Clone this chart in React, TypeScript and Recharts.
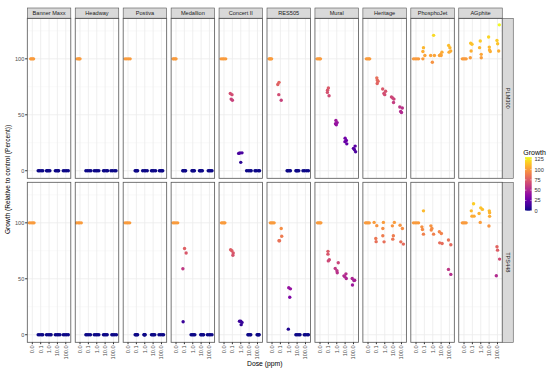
import React from "react";
import { CartesianGrid, Cell, Scatter, ScatterChart, XAxis, YAxis } from "recharts";

const products = ["Banner Maxx", "Headway", "Postiva", "Medallion", "Concert II", "RES505", "Mural", "Heritage", "PhosphoJet", "AGphite"];
const isolates = ["PLM300", "TPS448"];
const doseLabels = ["0.0", "0.1", "1.0", "10.0", "100.0"];
const growthTicks = [0, 50, 100];
const legendTicks = [0, 25, 50, 75, 100, 125];

// [jittered dose position (1 = 0.0 ppm ... 5 = 100.0 ppm), growth %]
const plmBannerMaxx = [
  [0.8, 100], [0.9, 100], [1.05, 100], [1.15, 100],
  [1.7, 0], [1.85, 0], [2.05, 0], [2.25, 0],
  [2.7, 0], [2.8, 0], [2.95, 0], [3.1, 0],
  [3.75, 0], [3.9, 0], [4.05, 0], [4.15, 0],
  [4.7, 0], [4.9, 0], [5.1, 0], [5.3, 0],
];
const plmHeadway = [
  [0.65, 100], [0.8, 100], [0.9, 100], [1.0, 100],
  [1.7, 0], [1.9, 0], [2.1, 0], [2.3, 0],
  [2.7, 0], [2.9, 0], [3.05, 0], [3.25, 0],
  [3.8, 0], [3.95, 0], [4.15, 0], [4.3, 0],
  [4.7, 0], [4.9, 0], [5.15, 0], [5.3, 0],
];
const plmPostiva = [
  [0.65, 100], [0.85, 100], [1.05, 100], [1.25, 100],
  [1.85, 0], [1.95, 0], [2.05, 0], [2.15, 0],
  [2.75, 0], [2.95, 0], [3.1, 0], [3.3, 0],
  [3.8, 0], [3.95, 0], [4.1, 0], [4.3, 0],
  [4.75, 0], [4.9, 0], [5.05, 0], [5.15, 0],
];
const plmMedallion = [
  [0.65, 100], [0.75, 100], [0.9, 100], [1.0, 100],
  [1.8, 0], [1.9, 0], [2.05, 0], [2.15, 0],
  [2.9, 0], [3.0, 0], [3.1, 0], [3.2, 0],
  [3.8, 0], [3.9, 0], [4.0, 0], [4.15, 0],
  [4.85, 0], [5.0, 0], [5.15, 0], [5.3, 0],
];
const plmConcertII = [
  [0.65, 100], [0.85, 100], [1.0, 100], [1.2, 100],
  [1.75, 69], [1.95, 68], [1.85, 64], [2.0, 63],
  [2.75, 15.5], [2.9, 15.8], [3.15, 16], [3.0, 7.5],
  [3.7, 0], [3.9, 0], [4.1, 0], [4.25, 0],
  [4.7, 0], [4.85, 0], [5.1, 0], [5.25, 0],
];
const plmRES505 = [
  [0.65, 100], [0.75, 100], [0.85, 100], [0.95, 100],
  [1.84, 79], [1.69, 77], [1.81, 68], [2.1, 63],
  [2.8, 0], [2.9, 0], [3.05, 0], [3.2, 0],
  [3.85, 0], [3.95, 0], [4.05, 0], [4.2, 0],
  [4.7, 0], [4.9, 0], [5.15, 0], [5.35, 0],
];
const plmMural = [
  [0.65, 100], [0.8, 100], [0.95, 100], [1.05, 100],
  [2.0, 74], [1.9, 72], [1.88, 70], [2.08, 67],
  [2.9, 45], [3.05, 43], [2.85, 42], [2.95, 41],
  [4.0, 29], [4.15, 27], [3.98, 26], [4.2, 24],
  [5.2, 22], [5.0, 20], [5.1, 19], [5.25, 17],
];
const plmHeritage = [
  [0.8, 100], [0.95, 100], [1.1, 100], [1.2, 100],
  [2.05, 83], [2.1, 81], [2.2, 80], [2.1, 78],
  [2.75, 73], [3.1, 71], [2.9, 69], [3.0, 68],
  [3.8, 66], [3.95, 65], [4.1, 64], [4.05, 61],
  [4.8, 57], [5.1, 56], [4.9, 53], [5.0, 52],
];
const plmPhosphoJet = [
  [0.7, 100], [0.9, 100], [1.1, 100], [1.3, 100],
  [1.89, 110], [1.82, 106.5], [2.06, 103], [1.82, 100],
  [2.75, 103], [2.95, 97], [3.1, 121], [3.2, 103],
  [3.8, 103], [3.95, 104], [4.1, 106], [4.0, 103],
  [4.9, 112], [5.05, 110], [5.15, 107], [4.95, 106],
];
const plmAGphite = [
  [0.8, 100], [0.95, 100], [1.1, 100], [1.25, 100],
  [1.8, 114], [1.95, 113], [1.85, 107], [1.75, 101],
  [2.94, 116], [2.86, 110], [3.06, 104], [3.06, 101],
  [3.94, 119.5], [4.02, 110.5], [4.14, 106.5], [4.05, 108],
  [4.94, 116.5], [5.02, 113.5], [5.14, 107], [5.22, 130.4],
];

const tpsBannerMaxx = [
  [0.65, 100], [0.85, 100], [1.05, 100], [1.2, 100],
  [1.7, 0], [1.9, 0], [2.1, 0], [2.25, 0],
  [2.7, 0], [2.9, 0], [3.1, 0], [3.25, 0],
  [3.75, 0], [3.95, 0], [4.1, 0], [4.3, 0],
  [4.7, 0], [4.9, 0], [5.1, 0], [5.3, 0],
];
const tpsHeadway = [
  [0.6, 100], [0.8, 100], [0.95, 100], [1.15, 100],
  [1.7, 0], [1.85, 0], [2.05, 0], [2.25, 0],
  [2.7, 0], [2.9, 0], [3.05, 0], [3.25, 0],
  [3.8, 0], [3.95, 0], [4.1, 0], [4.25, 0],
  [4.8, 0], [4.95, 0], [5.15, 0], [5.35, 0],
];
const tpsPostiva = [
  [0.65, 100], [0.85, 100], [1.0, 100], [1.2, 100],
  [1.85, 0], [1.95, 0], [2.05, 0], [2.15, 0],
  [2.9, 0], [2.95, 0], [3.0, 0], [3.05, 0],
  [3.8, 0], [3.95, 0], [4.05, 0], [4.2, 0],
  [4.7, 0], [4.9, 0], [5.1, 0], [5.25, 0],
];
const tpsMedallion = [
  [0.65, 100], [0.8, 100], [1.0, 100], [1.2, 100],
  [2.02, 77], [2.21, 73], [1.82, 59], [1.85, 11.6],
  [2.8, 0], [2.95, 0], [3.1, 0], [3.25, 0],
  [3.95, 0], [4.05, 0], [4.2, 0], [4.3, 0],
  [4.75, 0], [4.95, 0], [5.1, 0], [5.3, 0],
];
const tpsConcertII = [
  [0.7, 100], [0.85, 100], [1.0, 100], [1.1, 100],
  [1.79, 76], [1.94, 75], [2.1, 73], [2.06, 71],
  [2.85, 12], [3.0, 12], [3.15, 11], [3.05, 9],
  [3.85, 0], [3.95, 0], [4.1, 0], [4.2, 0],
  [4.95, 0], [5.05, 0], [5.15, 0], [5.2, 0],
];
const tpsRES505 = [
  [0.8, 100], [0.95, 100], [1.1, 100], [1.25, 100],
  [2.1, 95], [2.16, 88], [1.83, 84], [1.9, 84],
  [3.0, 42], [3.2, 41], [3.12, 33.5], [2.95, 5],
  [3.85, 0], [4.0, 0], [4.2, 0], [4.35, 0],
  [4.85, 0], [5.0, 0], [5.2, 0], [5.35, 0],
];
const tpsMural = [
  [0.7, 100], [0.85, 100], [1.0, 100], [1.1, 100],
  [1.95, 74.5], [1.95, 72], [2.11, 67], [1.99, 66],
  [3.18, 64.3], [2.82, 59.3], [3.02, 57.2], [3.06, 55.4],
  [4.1, 54.4], [3.86, 52.6], [3.95, 52], [4.14, 50.2],
  [4.85, 50.2], [5.14, 48.7], [5.05, 48.5], [4.88, 44.4],
];
const tpsHeritage = [
  [0.7, 100], [0.85, 100], [1.0, 100], [1.15, 100],
  [1.73, 100.4], [2.05, 97.5], [1.93, 86], [1.97, 83.2],
  [2.84, 100.4], [2.77, 95], [2.77, 88.4], [2.92, 83],
  [4.15, 100.4], [3.91, 97.3], [4.03, 88.4], [3.96, 85.4],
  [4.83, 97.9], [5.11, 95], [4.92, 83], [5.23, 81],
];
const tpsPhosphoJet = [
  [0.7, 100], [0.9, 100], [1.1, 100], [1.3, 100],
  [1.89, 110.7], [1.7, 96.4], [1.77, 94.1], [1.89, 89.9],
  [2.78, 97.3], [2.9, 95], [2.82, 93.5], [3.1, 89.9],
  [3.79, 92], [4.03, 90.5], [3.83, 82.1], [4.12, 81.6],
  [4.88, 84.6], [5.16, 80.4], [4.88, 58.4], [5.16, 53.9],
];
const tpsAGphite = [
  [0.8, 100], [0.95, 100], [1.1, 100], [1.25, 100],
  [2.14, 117], [1.87, 110.7], [1.95, 106], [2.2, 106],
  [2.8, 108.4], [3.0, 113.4], [3.2, 112], [2.94, 100.4],
  [4.02, 110.7], [4.06, 109], [4.06, 105.8], [3.98, 97.2],
  [4.94, 78.6], [5.01, 75.6], [5.25, 67.6], [4.86, 52.7],
];

const plm300 = [plmBannerMaxx, plmHeadway, plmPostiva, plmMedallion, plmConcertII, plmRES505, plmMural, plmHeritage, plmPhosphoJet, plmAGphite];
const tps448 = [tpsBannerMaxx, tpsHeadway, tpsPostiva, tpsMedallion, tpsConcertII, tpsRES505, tpsMural, tpsHeritage, tpsPhosphoJet, tpsAGphite];
const rows = [plm300, tps448];

const growthMax = Math.max(...rows.flat(2).map((p) => p[1]));

// layout
const FONT = "'Liberation Sans', Arial, Helvetica, sans-serif";
const X0 = 27.3;
const PITCH = 47.94;
const PW = 43.5;
const PH = 160;
const ROW_TOPS = [18.3, 182.3];
const STRIP_H = 10.3;
const RSTRIP_W = 11;
const XAXIS_H = 24;

const PLASMA = ["#0d0887", "#41049d", "#6a00a8", "#8f0da4", "#b12a90", "#cc4778", "#e16462", "#f2844b", "#fca636", "#fcce25", "#f0f921"];

function plasma(t: number) {
  const c = Math.max(0, Math.min(1, t || 0)) * (PLASMA.length - 1);
  const i = Math.min(Math.floor(c), PLASMA.length - 2);
  const f = c - i;
  const a = PLASMA[i], b = PLASMA[i + 1];
  const ch = (h: string, k: number) => parseInt(h.slice(1 + k * 2, 3 + k * 2), 16);
  const mix = [0, 1, 2].map((k) => Math.round(ch(a, k) + (ch(b, k) - ch(a, k)) * f));
  return `rgb(${mix.join(",")})`;
}

function DoseTick({ x, y, payload }: any) {
  return (
    <text x={x} y={y} transform={`rotate(-90 ${x} ${y})`} textAnchor="end" dy="0.35em" fontSize={5.6} fill="#4D4D4D" fontFamily={FONT}>
      {doseLabels[payload.value - 1]}
    </text>
  );
}

function Dot(p: any) {
  const v = p.payload?.y;
  return <circle cx={p.cx} cy={p.cy} r={1.7} fill={v == null ? p.fill : plasma(v / growthMax)} />;
}

function Panel({ points, col, row }: { points: number[][]; col: number; row: number }) {
  const left = X0 + col * PITCH;
  const yw = col === 0 ? left : 0;
  const xh = row === 1 ? XAXIS_H : 0;
  const data = points.map(([x, y]) => ({ x, y }));
  return (
    <div style={{ position: "absolute", left: left - yw, top: ROW_TOPS[row] }}>
      <ScatterChart width={PW + yw} height={PH + xh} margin={{ top: 0, right: 0, bottom: 0, left: 0 }}>
        <CartesianGrid stroke="#F2F2F2" strokeWidth={0.5} vertical={false} horizontalValues={[25, 75, 125]} />
        <CartesianGrid stroke="#EBEBEB" strokeWidth={0.8} horizontalValues={growthTicks} verticalValues={[1, 2, 3, 4, 5]} />
        <XAxis
          type="number"
          dataKey="x"
          domain={[0.4, 5.6]}
          ticks={[1, 2, 3, 4, 5]}
          hide={row !== 1}
          height={XAXIS_H}
          axisLine={false}
          tickLine={{ stroke: "#333" }}
          tickSize={2.2}
          tickMargin={1.2}
          tick={<DoseTick />}
          interval={0}
        />
        <YAxis
          type="number"
          dataKey="y"
          domain={[-6.5, 136.5]}
          ticks={growthTicks}
          hide={col !== 0}
          width={yw}
          axisLine={false}
          tickLine={{ stroke: "#333" }}
          tickSize={2.2}
          tickMargin={0.8}
          tick={{ fontSize: 5.6, fill: "#4D4D4D", fontFamily: FONT }}
          interval={0}
        />
        <Scatter data={data} isAnimationActive={false} shape={<Dot />}>
          {data.map((d, i) => (
            <Cell key={i} fill={plasma(d.y / growthMax)} />
          ))}
        </Scatter>
      </ScatterChart>
    </div>
  );
}

export default function App() {
  const rightX = X0 + 9 * PITCH + PW;
  const barBottom = 210.7;
  const pxPerUnit = 0.411;
  const barTop = barBottom - growthMax * pxPerUnit;
  return (
    <div style={{ position: "absolute", left: 0, top: 0, width: 550, height: 370, background: "#fff", fontFamily: FONT }}>
      {rows.map((panels, r) => panels.map((pts, c) => <Panel key={`${r}-${c}`} points={pts} col={c} row={r} />))}
      <svg width={550} height={370} style={{ position: "absolute", left: 0, top: 0, pointerEvents: "none" }}>
        <defs>
          <linearGradient id="plasmaBar" x1="0" y1="1" x2="0" y2="0">
            {PLASMA.map((c, i) => (
              <stop key={c} offset={`${(i / (PLASMA.length - 1)) * 100}%`} stopColor={c} />
            ))}
          </linearGradient>
        </defs>
        {products.map((p, c) => {
          const x = X0 + c * PITCH;
          return (
            <g key={p}>
              <rect x={x} y={ROW_TOPS[0] - STRIP_H} width={PW} height={STRIP_H} fill="#D9D9D9" stroke="#555" strokeWidth={0.6} />
              <text x={x + PW / 2} y={ROW_TOPS[0] - STRIP_H / 2} dy="0.35em" textAnchor="middle" fontSize={5.6} fill="#1A1A1A">{p}</text>
              {ROW_TOPS.map((t) => (
                <rect key={t} x={x} y={t} width={PW} height={PH} fill="none" stroke="#555" strokeWidth={0.8} />
              ))}
            </g>
          );
        })}
        {isolates.map((iso, r) => {
          const cy = ROW_TOPS[r] + PH / 2;
          const cx = rightX + RSTRIP_W / 2;
          return (
            <g key={iso}>
              <rect x={rightX} y={ROW_TOPS[r]} width={RSTRIP_W} height={PH} fill="#D9D9D9" stroke="#555" strokeWidth={0.6} />
              <text x={cx} y={cy} transform={`rotate(90 ${cx} ${cy})`} dy="0.35em" textAnchor="middle" fontSize={5.6} fill="#1A1A1A">{iso}</text>
            </g>
          );
        })}
        <text x={8} y={179.5} transform="rotate(-90 8 179.5)" dy="0.35em" textAnchor="middle" fontSize={6.6} fill="#000">
          Growth (Relative to control (Percent))
        </text>
        <text x={X0 + (rightX - X0) / 2} y={366} textAnchor="middle" fontSize={6.8} fill="#000">Dose (ppm)</text>
        <text x={523.3} y={155} fontSize={7} fill="#000">Growth</text>
        <rect x={525} y={barTop} width={6.7} height={barBottom - barTop} fill="url(#plasmaBar)" />
        {legendTicks.map((v) => {
          const y = barBottom - v * pxPerUnit;
          return (
            <g key={v}>
              <line x1={525} x2={526.4} y1={y} y2={y} stroke="#fff" strokeWidth={0.5} />
              <line x1={530.3} x2={531.7} y1={y} y2={y} stroke="#fff" strokeWidth={0.5} />
              <text x={534.5} y={y} dy="0.35em" fontSize={5.6} fill="#333">{v}</text>
            </g>
          );
        })}
      </svg>
    </div>
  );
}
